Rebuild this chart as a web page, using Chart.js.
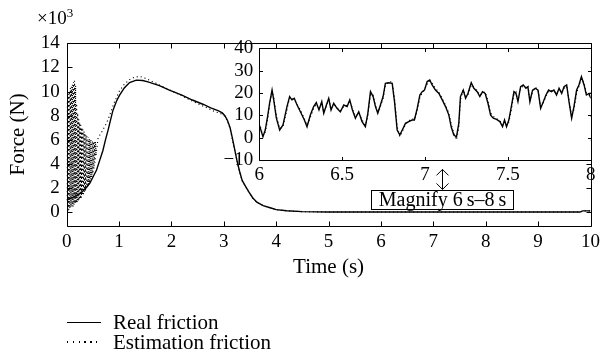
<!DOCTYPE html>
<html>
<head>
<meta charset="utf-8">
<script src="https://cdn.jsdelivr.net/npm/chart.js@4.4.1/dist/chart.umd.min.js"></script>
<style>
    body { margin: 0; background: #fff; }
    #wrap { position: relative; width: 605px; height: 362px; background: #fff; font-family: 'Liberation Serif', serif; color: #000; }
    canvas { position: absolute; left: 0; top: 0; }
    #exp { position: absolute; left: 37px; top: 8px; font-size: 19px; line-height: 20px; }
    #exp sup { font-size: 13px; position: relative; top: -7px; vertical-align: baseline; line-height: 0; }
    #mag { position: absolute; left: 371px; top: 190px; width: 143px; height: 20px; box-sizing: border-box;
           border: 1px solid #000; background: #fff; font-size: 20px; line-height: 17px; text-align: center; white-space: nowrap; }
    .leg { position: absolute; left: 67px; height: 22px; display: flex; align-items: center; font-size: 21px; white-space: nowrap; }
    .smp { width: 34px; margin-right: 12px; }
    .solid { border-top: 1.5px solid #000; }
    .dots { height: 1.3px; background: repeating-linear-gradient(to right, #000 0 1.3px, transparent 1.3px 5.8px); }
</style>
</head>
<body>
<div id="wrap">
    <canvas id="mainChart" width="605" height="362"></canvas>
    <canvas id="insetChart" width="605" height="362"></canvas>
    <div id="exp">×10<sup>3</sup></div>
    <div id="mag">Magnify 6&#8201;s–8&#8201;s</div>
    <div class="leg" style="top:311px"><span class="smp solid"></span>Real friction</div>
    <div class="leg" style="top:331px"><span class="smp dots"></span>Estimation friction</div>
</div>
<script>
// main plot: time (s) and friction force (N)
const realT = [0, 0.1, 0.25, 0.35, 0.44, 0.5, 0.57, 0.63, 0.69, 0.74, 0.79, 0.84, 0.88, 0.95, 1.01,
    1.1, 1.2, 1.33, 1.45, 1.55, 1.77, 1.96, 2.2, 2.4, 2.6, 2.75, 2.9, 2.97, 3.02, 3.07,
    3.12, 3.16, 3.25, 3.3, 3.35, 3.42, 3.48, 3.55, 3.63, 3.75, 3.9, 4.0, 4.2, 4.5, 5,
    6, 7, 8, 9, 9.8, 9.85, 10];
const realF = [1000, 1200, 1550, 1900, 2400, 2900, 3500, 4300, 5100, 6000, 6800, 7700, 8400, 9200, 9700,
    10300, 10750, 10950, 10920, 10800, 10500, 10120, 9700, 9300, 8950, 8650, 8400, 8230, 8000, 7600,
    7000, 6200, 4300, 3400, 2640, 2100, 1660, 1200, 830, 550, 350, 220, 120, 50, 20,
    15, 15, 15, 15, 15, 110, 110];

// estimate oscillates hard during the first half second
const estT = [0, 0.01, 0.02, 0.03, 0.04, 0.05, 0.06, 0.07, 0.08, 0.09,
    0.1, 0.11, 0.12, 0.13, 0.14, 0.15, 0.16, 0.17, 0.18, 0.19,
    0.2, 0.21, 0.22, 0.23, 0.24, 0.25, 0.26, 0.27, 0.28, 0.29,
    0.3, 0.31, 0.32, 0.33, 0.34, 0.35, 0.36, 0.37, 0.38, 0.39,
    0.4, 0.41, 0.42, 0.43, 0.44, 0.45, 0.46, 0.47, 0.48, 0.49,
    0.5, 0.51, 0.52, 0.53, 0.54, 0.55, 0.56,
    0.6, 0.65, 0.7, 0.75, 0.8, 0.85, 0.9, 0.95, 1.0,
    1.1, 1.2, 1.3, 1.4, 1.5, 1.6, 1.7, 1.8,
    2.0, 2.2, 2.4, 2.6, 2.8, 2.95,
    3.02, 3.07, 3.12, 3.16, 3.25, 3.3, 3.35, 3.42, 3.48, 3.55, 3.63, 3.75, 3.9, 4.0, 4.2, 4.5,
    5, 6, 7, 8, 9, 9.8, 9.85, 10];
const estF = [1000, 9200, 0, 9800, 200, 10000, 300, 10300, 400, 10400,
    500, 10600, 450, 10800, 600, 10900, 700, 10500, 750, 9000,
    800, 8200, 900, 7700, 1000, 7400, 1100, 7200, 1200, 7000,
    1400, 6850, 1500, 6700, 1700, 6550, 1800, 6400, 2000, 6300,
    2100, 6200, 2300, 6100, 2400, 6000, 2700, 5950, 2900, 5900,
    3200, 5850, 3600, 5800, 4100, 5850, 4700,
    6200, 6500, 6900, 7300, 7800, 8400, 9000, 9500, 10000,
    10600, 11000, 11200, 11250, 11100, 10900, 10700, 10480,
    10050, 9650, 9200, 8800, 8400, 8150,
    7950, 7550, 6900, 6100, 4250, 3350, 2600, 2080, 1640, 1190, 820, 540, 345, 215, 115, 45,
    20, 15, 15, 15, 15, 15, 110, 110];

// inset: 6 s - 8 s magnified (N)
const insetT = [6.000, 6.022, 6.036, 6.050, 6.062, 6.077, 6.087, 6.103, 6.123, 6.143,
    6.167, 6.183, 6.197, 6.211, 6.228, 6.248, 6.272, 6.288, 6.308, 6.328,
    6.344, 6.360, 6.377, 6.389, 6.405, 6.419, 6.433, 6.449, 6.469, 6.489,
    6.510, 6.530, 6.546, 6.562, 6.580, 6.600, 6.620, 6.640, 6.655, 6.671,
    6.687, 6.701, 6.715, 6.731, 6.747, 6.761, 6.781, 6.802, 6.816, 6.832,
    6.848, 6.868, 6.882, 6.902, 6.922, 6.936, 6.953, 6.969, 6.983, 6.997,
    7.013, 7.029, 7.043, 7.063, 7.084, 7.104, 7.124, 7.144, 7.158, 7.174,
    7.190, 7.204, 7.214, 7.231, 7.245, 7.259, 7.279, 7.295, 7.315, 7.331,
    7.347, 7.363, 7.380, 7.396, 7.412, 7.432, 7.452, 7.468, 7.480, 7.492,
    7.506, 7.521, 7.537, 7.549, 7.561, 7.577, 7.593, 7.609, 7.621, 7.633,
    7.649, 7.666, 7.682, 7.698, 7.714, 7.730, 7.746, 7.762, 7.778, 7.794,
    7.809, 7.825, 7.839, 7.855, 7.869, 7.885, 7.899, 7.915, 7.929, 7.944,
    7.960, 7.974, 7.990, 8.000];
const insetReal = [5.7, 0.4, 3.4, 9.4, 15.4, 21.3, 16.9, 8.7, 3.4, 5.7,
    13.9, 18.4, 16.9, 17.6, 14.6, 11.6, 7.9, 4.9, 10.1, 13.9,
    15.7, 12.4, 16.1, 10.9, 14.6, 17.6, 12.4, 15.4, 13.1, 11.6,
    14.6, 13.9, 16.9, 12.4, 8.7, 11.6, 7.2, 4.9, 10.9, 20.6,
    18.4, 13.9, 10.9, 14.6, 18.4, 24.3, 24.6, 24.3, 16.1, 3.4,
    1.2, 4.2, 6.4, 7.2, 7.9, 7.9, 13.1, 19.1, 20.6, 21.3,
    25.1, 25.8, 23.6, 21.3, 19.8, 16.9, 13.9, 10.1, 4.9, 1.2,
    0.4, 6.4, 18.4, 21.3, 17.6, 19.8, 24.6, 22.1, 20.6, 18.4,
    20.6, 19.8, 15.4, 10.1, 8.7, 8.2, 7.2, 4.9, 7.9, 4.9,
    7.9, 13.9, 20.6, 19.8, 16.1, 22.8, 23.6, 22.1, 22.8, 16.1,
    21.3, 22.1, 21.3, 13.1, 16.1, 19.1, 21.3, 20.6, 21.3, 19.1,
    22.1, 19.8, 22.8, 23.6, 16.1, 8.7, 13.9, 21.3, 23.6, 27.3,
    23.6, 19.1, 19.8, 17.6];
const insetEst = [6.5, 1.0, 2.5, 8.0, 14.5, 20.5, 18.0, 10.0, 4.0, 5.0,
    12.5, 18.0, 17.5, 17.0, 15.0, 12.5, 8.5, 5.5, 9.0, 13.0,
    15.0, 13.0, 15.5, 11.5, 14.0, 17.0, 13.0, 15.0, 13.5, 12.0,
    14.0, 14.5, 16.5, 13.0, 9.5, 11.0, 8.0, 5.5, 9.5, 19.5,
    19.0, 14.5, 11.5, 14.0, 17.5, 23.5, 25.0, 25.0, 17.5, 5.0,
    0.5, 3.5, 6.0, 7.5, 8.5, 8.0, 12.0, 18.0, 20.0, 21.5,
    24.0, 25.5, 24.5, 22.0, 20.5, 17.5, 14.5, 11.0, 6.0, 2.0,
    -1.0, 4.5, 17.0, 21.5, 18.5, 19.0, 23.5, 22.5, 21.0, 19.0,
    20.0, 20.5, 16.5, 11.0, 9.5, 8.5, 7.5, 5.5, 7.0, 5.5,
    7.0, 12.5, 19.5, 20.5, 16.5, 22.0, 23.0, 22.5, 23.5, 17.0,
    20.5, 22.5, 21.5, 14.0, 15.5, 18.5, 21.0, 21.0, 21.0, 19.5,
    21.5, 20.5, 22.0, 23.0, 17.0, 9.5, 12.5, 20.0, 23.0, 26.5,
    24.5, 20.0, 19.0, 18.0];

const mainTicksX = [0, 1, 2, 3, 4, 5, 6, 7, 8, 9, 10];
const mainTicksY = [0, 2000, 4000, 6000, 8000, 10000, 12000, 14000];
const insetTicksX = [6, 6.5, 7, 7.5, 8];
const insetTicksY = [-10, 0, 10, 20, 30, 40];

const FONT = "'Liberation Serif', serif";
Chart.defaults.font.family = FONT;
Chart.defaults.color = '#000';

const toXY = (xs, ys) => xs.map((x, i) => ({x: x, y: ys[i]}));
const fixTicks = list => scale => { scale.ticks = list.map(v => ({value: v})); };
const minusLabel = v => v < 0 ? '\u2212' + Math.abs(v) : String(v);

// frame + inward MATLAB style ticks on all four sides
const boxTicks = {
    id: 'boxTicks',
    beforeDatasetsDraw(chart, args, opts) {
        if (!opts.fill) return;
        const a = chart.chartArea;
        chart.ctx.save();
        chart.ctx.fillStyle = '#fff';
        chart.ctx.fillRect(a.left, a.top, a.right - a.left, a.bottom - a.top);
        chart.ctx.restore();
    },
    afterDatasetsDraw(chart, args, opts) {
        const {ctx, chartArea: a, scales: {x, y}} = chart;
        const r = v => Math.round(v) + 0.5;
        const L = r(a.left), R = r(a.right), T = r(a.top), B = r(a.bottom);
        ctx.save();
        ctx.strokeStyle = '#000';
        ctx.lineWidth = 1;
        ctx.beginPath();
        ctx.rect(L, T, R - L, B - T);
        x.ticks.forEach(t => {
            const p = r(x.getPixelForValue(t.value));
            ctx.moveTo(p, B); ctx.lineTo(p, B - opts.len);
            ctx.moveTo(p, T); ctx.lineTo(p, T + opts.len);
        });
        y.ticks.forEach(t => {
            const p = r(y.getPixelForValue(t.value));
            ctx.moveTo(L, p); ctx.lineTo(L + opts.len, p);
            ctx.moveTo(R, p); ctx.lineTo(R - opts.len, p);
        });
        ctx.stroke();
        ctx.restore();
    }
};

// double arrow under the inset, placed in main-axis units
const arrowMark = {
    id: 'arrowMark',
    afterDraw(chart, args, opts) {
        if (!opts.at) return;
        const {ctx, scales: {x, y}} = chart;
        const px = Math.round(x.getPixelForValue(opts.at)) + 0.5;
        const y1 = y.getPixelForValue(opts.from), y2 = y.getPixelForValue(opts.to);
        ctx.save();
        ctx.strokeStyle = '#000';
        ctx.lineWidth = 1;
        ctx.beginPath();
        ctx.moveTo(px, y1); ctx.lineTo(px, y2);
        ctx.moveTo(px - 6, y1 + 6); ctx.lineTo(px, y1); ctx.lineTo(px + 6, y1 + 6);
        ctx.moveTo(px - 6, y2 - 6); ctx.lineTo(px, y2); ctx.lineTo(px + 6, y2 - 6);
        ctx.stroke();
        ctx.restore();
    }
};

const solidStyle = {borderColor: '#000', borderWidth: 1.4, pointRadius: 0, tension: 0, fill: false};
const dotStyle = {borderColor: '#000', borderWidth: 1.1, borderDash: [1.1, 2.9], pointRadius: 0, tension: 0, fill: false};

new Chart(document.getElementById('mainChart'), {
    type: 'line',
    data: {
        datasets: [
            Object.assign({label: 'Estimation friction', data: toXY(estT, estF)}, dotStyle),
            Object.assign({label: 'Real friction', data: toXY(realT, realF)}, solidStyle)
        ]
    },
    options: {
        responsive: false,
        animation: false,
        layout: {padding: {top: 43.3, right: 11, left: 0, bottom: 0}},
        plugins: {
            legend: {display: false},
            tooltip: {enabled: false},
            boxTicks: {len: 5},
            arrowMark: {at: 7.16, from: 3550, to: 1890}
        },
        scales: {
            x: {
                type: 'linear', min: 0, max: 10,
                afterBuildTicks: fixTicks(mainTicksX),
                afterFit: s => { s.height = 136.5; },
                grid: {display: false, drawTicks: false},
                border: {display: false},
                ticks: {color: '#000', font: {family: FONT, size: 19}, padding: 5, maxRotation: 0, autoSkip: false, callback: v => String(v)},
                title: {display: true, text: 'Time (s)', color: '#000', font: {family: FONT, size: 21}, padding: {bottom: 82}}
            },
            y: {
                type: 'linear', min: -1100, max: 14000,
                afterBuildTicks: fixTicks(mainTicksY),
                afterFit: s => { s.width = 66.7; },
                grid: {display: false, drawTicks: false},
                border: {display: false},
                ticks: {color: '#000', font: {family: FONT, size: 19}, padding: 7, autoSkip: false, callback: v => String(v / 1000)},
                title: {display: true, text: 'Force (N)', color: '#000', font: {family: FONT, size: 21}, padding: {top: 6}}
            }
        }
    },
    plugins: [boxTicks, arrowMark]
});

new Chart(document.getElementById('insetChart'), {
    type: 'line',
    data: {
        datasets: [
            Object.assign({label: 'Estimation friction', data: toXY(insetT, insetEst)}, dotStyle),
            Object.assign({label: 'Real friction', data: toXY(insetT, insetReal)}, solidStyle)
        ]
    },
    options: {
        responsive: false,
        animation: false,
        layout: {padding: {top: 48.3, right: 14.3, left: 0, bottom: 0}},
        plugins: {
            legend: {display: false},
            tooltip: {enabled: false},
            boxTicks: {len: 3.5, fill: true}
        },
        scales: {
            x: {
                type: 'linear', min: 6, max: 8,
                afterBuildTicks: fixTicks(insetTicksX),
                afterFit: s => { s.height = 202; },
                grid: {display: false, drawTicks: false},
                border: {display: false},
                ticks: {color: '#000', font: {family: FONT, size: 19}, padding: 4, maxRotation: 0, autoSkip: false, callback: v => String(v)}
            },
            y: {
                type: 'linear', min: -10, max: 40,
                afterBuildTicks: fixTicks(insetTicksY),
                afterFit: s => { s.width = 259.3; },
                grid: {display: false, drawTicks: false},
                border: {display: false},
                ticks: {color: '#000', font: {family: FONT, size: 19}, padding: 6, autoSkip: false, callback: minusLabel}
            }
        }
    },
    plugins: [boxTicks]
});
</script>
</body>
</html>
